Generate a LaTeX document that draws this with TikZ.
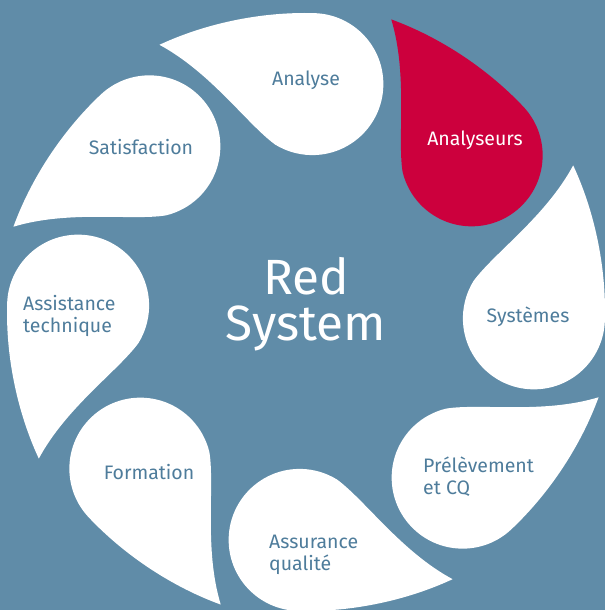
\documentclass[tikz,border=0pt]{standalone}
\usepackage{fontspec}
\setmainfont{Fira Sans}
\definecolor{bgblue}{RGB}{96,140,168}
\definecolor{txtblue}{RGB}{78,124,155}
\definecolor{redpetal}{RGB}{204,0,61}
\tikzset{
  lbl/.style={text=txtblue, font=\fontsize{19.5}{22}\selectfont, inner sep=0pt},
  lblwhite/.style={lbl, text=white},
  lbltwo/.style={lbl, anchor=west, align=left},
  titletxt/.style={text=white, font=\fontsize{49.5}{46}\selectfont, align=center, inner sep=0pt}
}
\begin{document}
\begin{tikzpicture}[x=1pt,y=1pt]
\useasboundingbox (0,0) rectangle (605,610);
\clip (0,0) rectangle (605,610);
\fill[bgblue] (0,0) rectangle (605,610);
\begin{scope}[shift={(306,298)}]
\foreach \k/\col in {0/white,1/redpetal,2/white,3/white,4/white,5/white,6/white,7/white}{
  \begin{scope}[rotate={88.4-45*\k}]
    \fill[\col] (263,154) .. controls (285,110) and (299,55) .. (299,0)
      arc[start angle=0, end angle=-210, radius=71]
      .. controls (186,64) and (237,102) .. (263,154) -- cycle;
  \end{scope}
}
\end{scope}
\node[lbl] (analyse) at (306,530) {Analyse};
\node[lblwhite] (analyseurs) at (475,470) {Analyseurs};
\node[lbl] (systemes) at (528,293) {Systèmes};
\node[lbltwo] (prelevement) at (423,133) {Prélèvement\\et CQ};
\node[lbltwo] (assurance) at (269,55) {Assurance\\qualité};
\node[lbl] (formation) at (149,138) {Formation};
\node[lbltwo] (assistance) at (23,294) {Assistance\\technique};
\node[lbl] (satisfaction) at (141,463) {Satisfaction};
\node[titletxt] (title) at (306,306) {Red\\System};
\end{tikzpicture}
\end{document}
